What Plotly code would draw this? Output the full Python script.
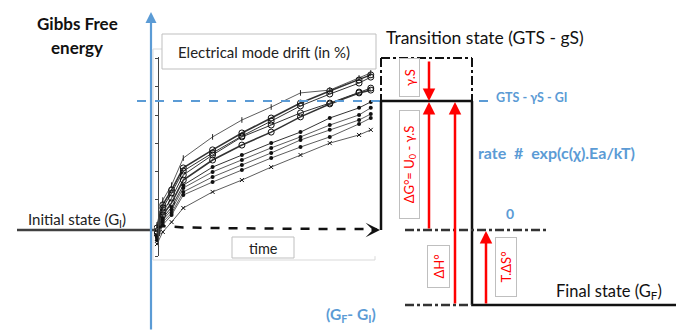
import plotly.graph_objects as go

# ---------------- data (inset: electrical mode drift vs time) ----------------
times = [0.1, 0.3, 0.6, 1, 2, 3, 4, 5, 6, 7, 7.4]
drift_c1 = [0.11, 0.99, 1.52, 2.48, 3.23, 3.83, 4.29, 4.79, 4.89, 5.32, 5.50]
drift_c2 = [0.00, 0.82, 1.35, 2.13, 2.77, 3.37, 3.90, 4.43, 4.86, 5.25, 5.43]
drift_c3 = [-0.11, 0.71, 1.24, 2.02, 2.66, 3.26, 3.79, 4.33, 4.75, 5.14, 5.35]
drift_c4 = [-0.14, 0.57, 1.06, 1.88, 2.59, 3.23, 3.65, 4.08, 4.43, 4.82, 4.96]
drift_c5 = [-0.21, 0.46, 0.89, 1.70, 2.41, 2.94, 3.40, 3.94, 4.40, 4.79, 4.89]
drift_c6 = [-0.28, 0.35, 0.74, 1.52, 2.16, 2.59, 3.01, 3.40, 3.90, 4.26, 4.47]
drift_c7 = [-0.32, 0.28, 0.64, 1.42, 1.99, 2.41, 2.84, 3.23, 3.65, 4.01, 4.26]
drift_c8 = [-0.35, 0.21, 0.53, 1.28, 1.81, 2.23, 2.66, 3.12, 3.48, 3.83, 4.04]
drift_c9 = [-0.43, 0.11, 0.46, 1.17, 1.63, 2.06, 2.48, 2.87, 3.23, 3.69, 3.90]
drift_c10 = [-0.57, -0.14, 0.21, 0.71, 1.28, 1.70, 2.16, 2.59, 3.01, 3.30, 3.48]
times_flat = [0.1, 0.3, 0.6, 1, 2, 3, 4, 5, 6, 7, 7.6]
drift_flat = [0.00, 0.07, 0.05, 0.02, 0.00, -0.02, -0.02, -0.03, -0.03, -0.03, -0.04]

# ---------------- diagram levels (pixel-space diagram coordinates) ----------------
lvl_initial = 230
lvl_ts = 101
lvl_ts_top = 58
lvl_final = 305

BLUE = "#5b9bd5"
RED = "#ff0000"
FONT = "Lato"

fig = go.Figure()

# invisible trace to anchor main (diagram) axes
fig.add_trace(go.Scatter(x=[0, 686], y=[0, 331], mode="markers",
                         marker=dict(opacity=0), hoverinfo="skip", showlegend=False))

curves = [
    (drift_c1, dict(symbol="line-ns", size=4, color="#222", line=dict(width=1, color="#222")), 0.8),
    (drift_c2, dict(symbol="circle-open", size=6, color="#111"), 1.6),
    (drift_c3, dict(symbol="circle-open", size=6, color="#111"), 1.0),
    (drift_c4, dict(symbol="circle-open", size=6, color="#111"), 1.0),
    (drift_c5, dict(symbol="circle-open", size=6, color="#111"), 1.6),
    (drift_c6, dict(symbol="circle", size=4, color="#111"), 1.0),
    (drift_c7, dict(symbol="circle", size=4, color="#111"), 0.8),
    (drift_c8, dict(symbol="circle", size=4, color="#111"), 0.8),
    (drift_c9, dict(symbol="circle", size=4, color="#111"), 0.8),
    (drift_c10, dict(symbol="x-thin-open", size=4, color="#111", line=dict(width=1, color="#111")), 0.8),
]
for vals, mk, w in curves:
    fig.add_trace(go.Scatter(x=times, y=vals, xaxis="x2", yaxis="y2", mode="lines+markers",
                             line=dict(color="#333", width=w), marker=mk,
                             hoverinfo="skip", showlegend=False))
fig.add_trace(go.Scatter(x=times_flat, y=drift_flat, xaxis="x2", yaxis="y2", mode="lines",
                         line=dict(color="#111", width=2.5, dash="dash"),
                         hoverinfo="skip", showlegend=False))

shapes = []
def line(x0, y0, x1, y1, color="black", width=2.5, dash="solid", layer="above"):
    shapes.append(dict(type="line", xref="x", yref="y", x0=x0, y0=y0, x1=x1, y1=y1,
                       line=dict(color=color, width=width, dash=dash), layer=layer))

def rect(x0, y0, x1, y1, color="#bfbfbf", width=1, fill="rgba(0,0,0,0)", dash="solid", layer="above"):
    shapes.append(dict(type="rect", xref="x", yref="y", x0=x0, y0=y0, x1=x1, y1=y1,
                       line=dict(color=color, width=width, dash=dash), fillcolor=fill, layer=layer))

# inset frame and boxes
rect(153, 49, 375, 260, color="#d9d9d9", width=1, layer="below")
rect(162, 34, 376, 69, color="#bfbfbf", width=1, fill="white")
rect(232, 237, 294, 258, color="#bfbfbf", width=1, fill="white")

# initial state level
line(17, lvl_initial, 155, lvl_initial, color="#404040", width=2.5)
# blue dashed GTS - gS - GI level
line(137, lvl_ts, 492, lvl_ts, color=BLUE, width=2, dash="dash")
# transition state dash-dot box
line(381, lvl_ts_top, 472, lvl_ts_top, color="#111", width=2, dash="dashdot")
line(381, lvl_ts_top, 381, lvl_ts, color="#111", width=2, dash="dashdot")
line(472, lvl_ts_top, 472, lvl_ts, color="#111", width=2, dash="dashdot")
# barrier
line(381, lvl_initial, 381, lvl_ts, color="#111", width=2.5)
line(381, lvl_ts, 472, lvl_ts, color="#111", width=2.5)
line(472, lvl_ts, 472, lvl_final, color="#111", width=2.5)
# final state
line(472, lvl_final, 676, lvl_final, color="#111", width=2.5)
# zero reference dash-dot lines
line(405, lvl_initial, 547, lvl_initial, color="#333", width=2.5, dash="dashdot")
line(405, lvl_final, 472, lvl_final, color="#333", width=2.5, dash="dashdot")

ann = []
def arrow(x0, y0, x1, y1, color=RED, width=2.5, head=2, size=1):
    ann.append(dict(x=x1, y=y1, ax=x0, ay=y0, xref="x", yref="y", axref="x", ayref="y",
                    showarrow=True, arrowhead=head, arrowsize=size, arrowwidth=width,
                    arrowcolor=color, text=""))

# Gibbs energy axis
arrow(151, 331, 151, 12, color=BLUE, width=2.2, head=2, size=1.0)
# red arrows
arrow(429, 60, 429, lvl_ts, head=2, size=1)
arrow(429, lvl_initial, 429, lvl_ts + 1, head=2, size=1)
arrow(455, lvl_final, 455, lvl_ts + 1, head=2, size=1)
arrow(486, lvl_final, 486, lvl_initial + 1, head=2, size=1)
# end arrow of flat dashed curve
arrow(370, 230, 380, 230, color="#111", width=2, head=3, size=1.2)

def text(x, y, s, size=14, color="black", bold=False, xanchor="center", **kw):
    if bold:
        s = "<b>" + s + "</b>"
    d = dict(x=x, y=y, xref="x", yref="y", text=s, showarrow=False, xanchor=xanchor,
             yanchor="middle", font=dict(family=FONT, size=size, color=color))
    d.update(kw)
    ann.append(d)

text(77, 23, "Gibbs Free", size=17, bold=True, color="#111")
text(77, 47, "energy", size=17, bold=True, color="#111")
text(264, 52, "Electrical mode drift (in %)", size=15, color="#222")
text(263, 248, "time", size=14.5, color="#222")
text(384, 37, "Transition state (GTS - gS)", size=17.5, color="#111", xanchor="left")
text(494, 97, "GTS - γS - GI", size=12.5, bold=True, color=BLUE, xanchor="left")
text(476, 152, "rate&nbsp; #&nbsp; exp(c(χ).Ea/kT)", size=16, bold=True, color=BLUE, xanchor="left")
text(510, 213, "0", size=14, bold=True, color=BLUE)
text(554, 291, "Final state (G<sub>F</sub>)", size=16.5, color="#111", xanchor="left")
text(26, 220, "Initial state (G<sub>I</sub>)", size=15, color="#222", xanchor="left")
text(324, 315, "(G<sub>F</sub>- G<sub>I</sub>)", size=15.5, bold=True, color=BLUE, xanchor="left")

def rtext(x, y, s, w, h, size=13):
    ann.append(dict(x=x, y=y, xref="x", yref="y", text=s, showarrow=False, textangle=-90,
                    width=w, height=h, xanchor="center", yanchor="middle",
                    bordercolor="#bfbfbf", borderwidth=1, bgcolor="white", borderpad=0,
                    font=dict(family=FONT, size=size, color=RED)))

rtext(409, 78, "γ.S", 37, 19)
rtext(409, 165, "ΔG°= U<sub>0</sub> - γ.S", 107, 19)
rtext(438, 267, "ΔH°", 41, 21)
rtext(506, 267, "T.ΔS°", 58, 20)

fig.update_layout(
    width=686, height=331, margin=dict(l=0, r=0, t=0, b=0),
    paper_bgcolor="white", plot_bgcolor="white",
    xaxis=dict(range=[0, 686], domain=[0, 1], visible=False, fixedrange=True),
    yaxis=dict(range=[331, 0], domain=[0, 1], visible=False, fixedrange=True),
    xaxis2=dict(range=[0, 7.8], domain=[154 / 686, 382.5 / 686], anchor="y2",
                visible=False, fixedrange=True),
    yaxis2=dict(range=[-1, 6.06], domain=[(331 - 256.2) / 331, (331 - 57.1) / 331],
                anchor="free", position=157.5 / 686,
                showline=True, linecolor="#444", linewidth=1, showgrid=False,
                zeroline=False, showticklabels=False, ticks="outside", ticklen=3,
                tickcolor="#444", dtick=1, tick0=0, fixedrange=True),
    shapes=shapes, annotations=ann, showlegend=False,
)

fig.write_html("out.html")
